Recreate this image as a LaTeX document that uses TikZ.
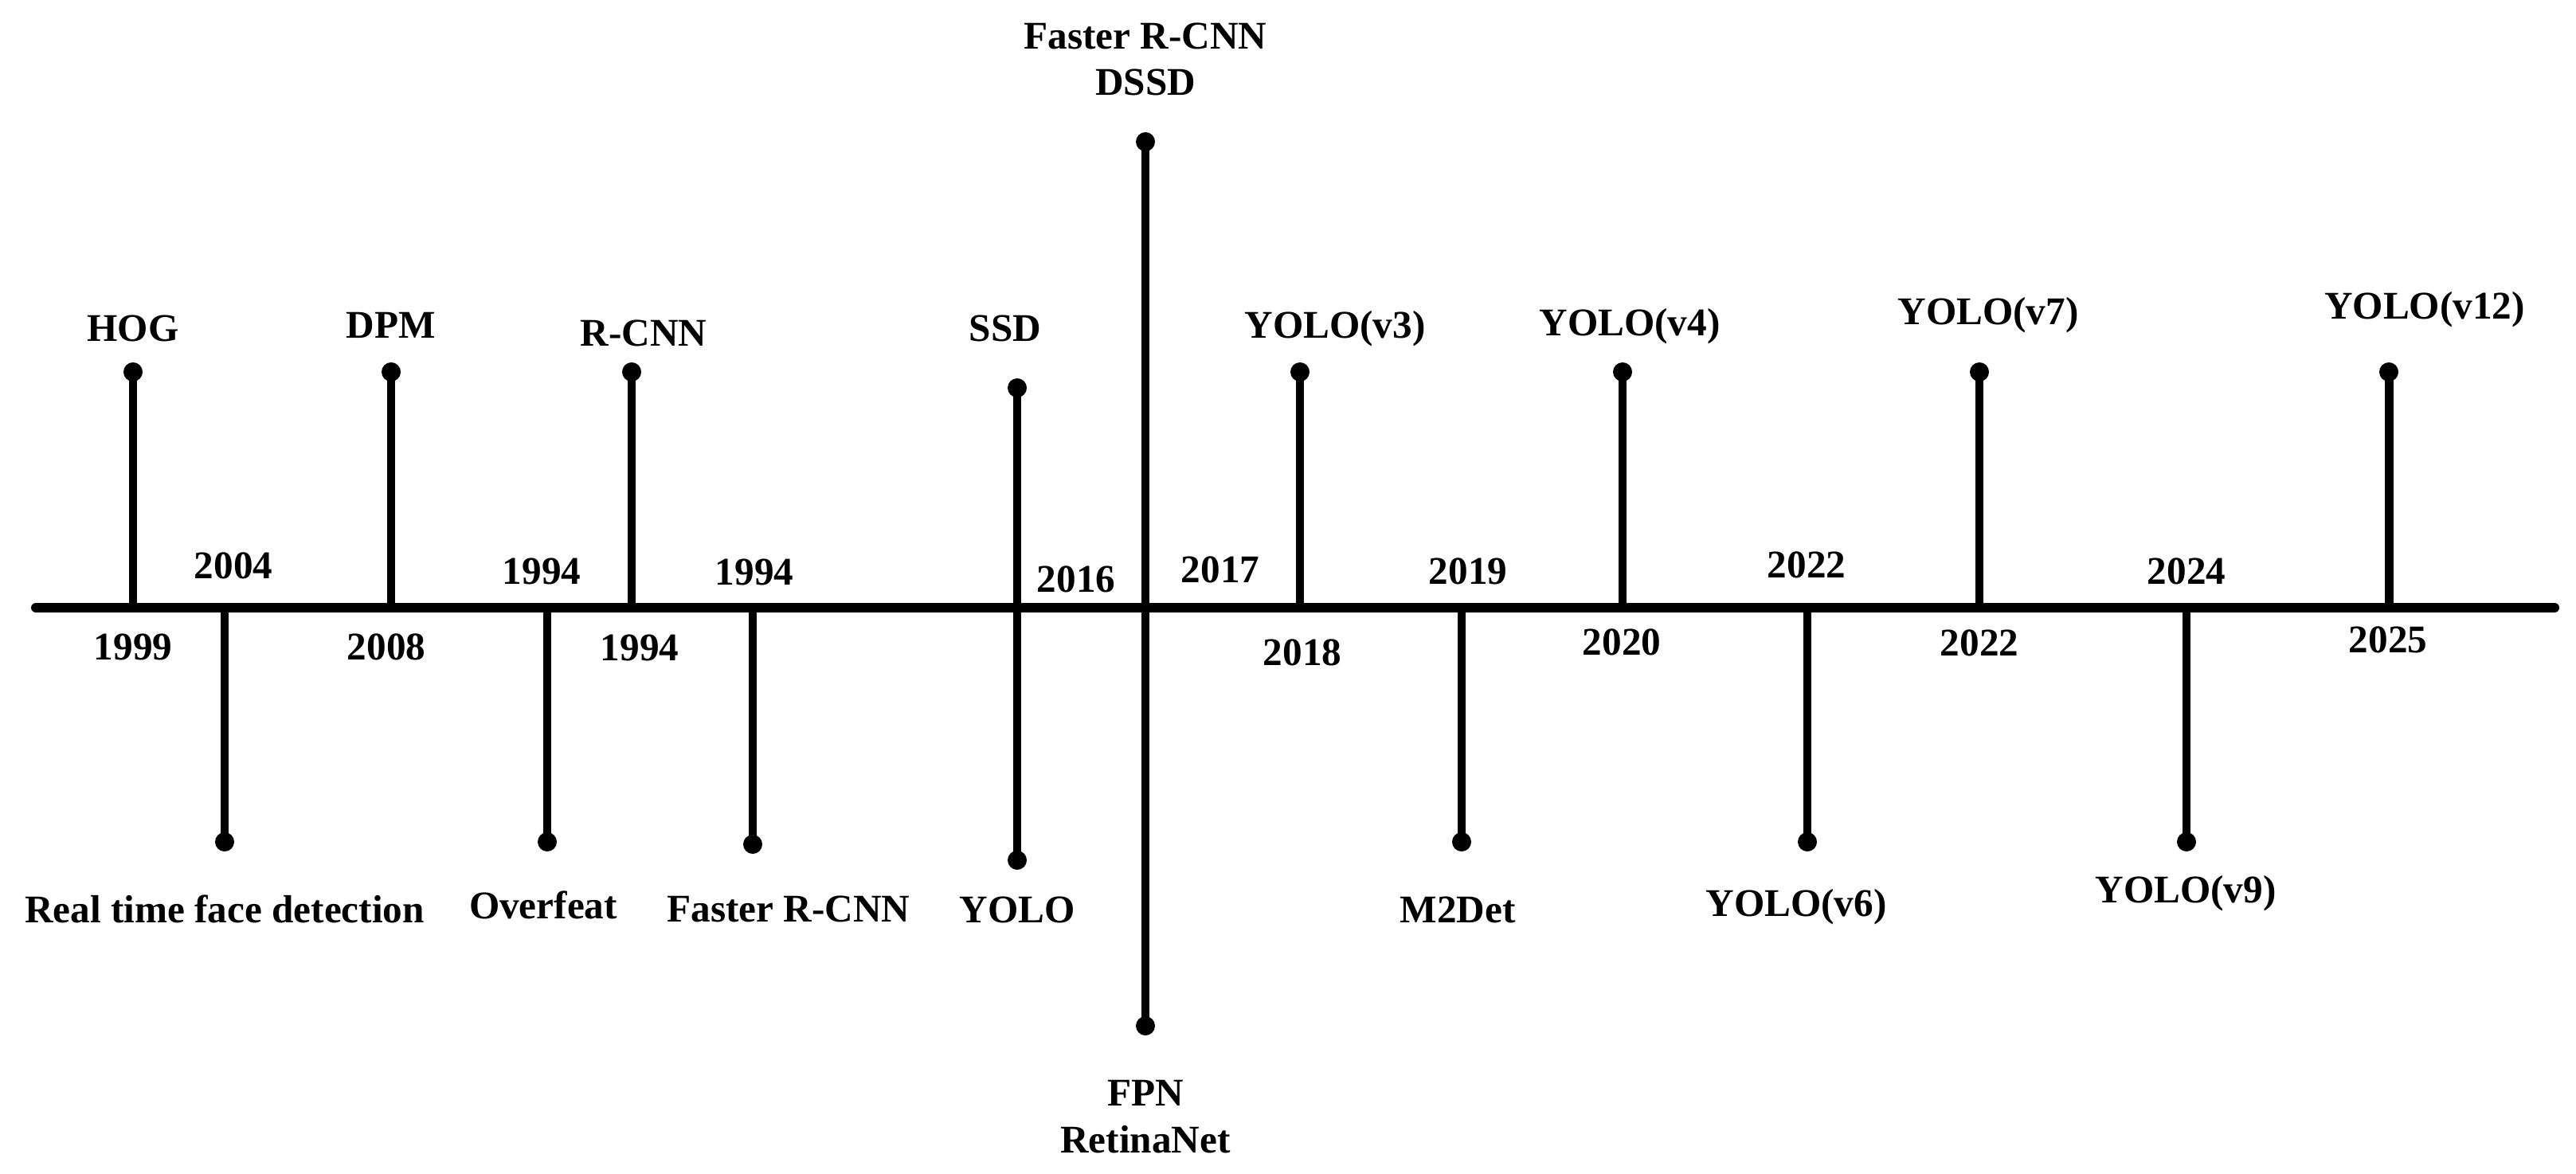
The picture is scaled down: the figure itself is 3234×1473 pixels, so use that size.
\documentclass[tikz,border=0pt]{standalone}
\usepackage{fontspec}
\setmainfont{Liberation Serif}
\begin{document}
\begin{tikzpicture}[x=0.01cm, y=-0.01cm]
\tikzset{
  axisline/.style={line width=3.4pt, line cap=round},
  stemline/.style={line width=3.1pt},
  dotnode/.style={circle, fill=black, minimum size=0.24cm, inner sep=0pt},
  lab/.style={font=\fontsize{14}{16}\selectfont\bfseries, anchor=base, inner sep=0pt},
}
\path[use as bounding box, fill=white] (0,0) rectangle (3234,1473);

% main axis
\coordinate (L) at (45,763);
\coordinate (R) at (3207,763);
\draw[axisline] (L) -- (R);

% stems above the axis
\foreach \n/\x/\dy/\t/\lx/\ly in {
  hog/167/467/HOG/167/429,
  dpm/491/467/DPM/491/424,
  rcnn/793/467/R-CNN/808/435,
  ssd/1277/487/SSD/1262/429,
  vthree/1632/467/YOLO(v3)/1676/425,
  vfour/2037/467/YOLO(v4)/2046/422,
  vseven/2485/467/YOLO(v7)/2496/408,
  vtwelve/2999/467/YOLO(v12)/3044/401}
{
  \coordinate (a\n) at (\x,763);
  \node[dotnode] (d\n) at (\x,\dy) {};
  \draw[stemline] (a\n) -- (d\n.center);
  \node[lab] (t\n) at (\lx,\ly) {\t};
}

% stems below the axis
\foreach \n/\x/\dy/\t/\lx/\ly in {
  rt/282/1057/Real time face detection/282/1158,
  overfeat/687/1057/Overfeat/682/1153,
  frcnn/945/1060/Faster R-CNN/990/1157,
  yolo/1277/1080/YOLO/1277/1158,
  mtwo/1835/1057/M2Det/1830/1158,
  vsix/2269/1057/YOLO(v6)/2255/1150,
  vnine/2745/1057/YOLO(v9)/2744/1133}
{
  \coordinate (a\n) at (\x,763);
  \node[dotnode] (d\n) at (\x,\dy) {};
  \draw[stemline] (a\n) -- (d\n.center);
  \node[lab] (t\n) at (\lx,\ly) {\t};
}

% central long stem
\node[dotnode] (ctop) at (1438,178) {};
\node[dotnode] (cbot) at (1438,1288) {};
\draw[stemline] (ctop.center) -- (cbot.center);
\node[lab] (cfaster) at (1438,62) {Faster R-CNN};
\node[lab] (cdssd) at (1438,120) {DSSD};
\node[lab] (cfpn) at (1438,1388) {FPN};
\node[lab] (cretina) at (1438,1447) {RetinaNet};

% year labels
\foreach \n/\x/\y/\t in {
  a/167/828/1999,
  b/293/726/2004,
  c/485/828/2008,
  d/680/733/1994,
  e/803/829/1994,
  f/947/734/1994,
  g/1351/743/2016,
  h/1532/731/2017,
  i/1635/835/2018,
  j/1843/733/2019,
  k/2036/822/2020,
  l/2268/725/2022,
  m/2485/823/2022,
  n/2745/733/2024,
  o/2998/819/2025}
{
  \node[lab] (y\n) at (\x,\y) {\t};
}
\end{tikzpicture}
\end{document}
